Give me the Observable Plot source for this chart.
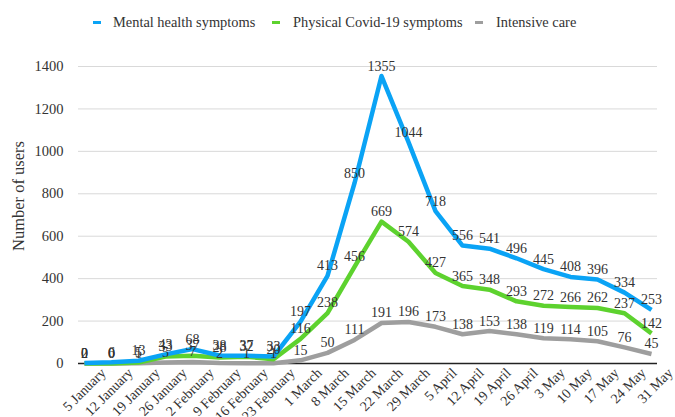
<!DOCTYPE html>
<html>
<head>
<meta charset="utf-8">
<script src="https://cdn.jsdelivr.net/npm/d3@7"></script>
<script src="https://cdn.jsdelivr.net/npm/@observablehq/plot@0.6"></script>
<style>
  html, body { margin: 0; padding: 0; background: #fff; }
  #wrap { width: 675px; height: 417px; position: relative; font-family: "Liberation Serif", "DejaVu Serif", serif; color: #333; }
  #legend { position: relative; height: 40px; width: 675px; }
  .sw { position: absolute; top: 21px; width: 8px; height: 3px; }
  .lt { position: absolute; top: 12px; font-family: "Liberation Serif", "DejaVu Serif", serif; font-size: 14.4px; line-height: 20px; white-space: nowrap; color: #333; }
  #chart svg text { font-family: "Liberation Serif", "DejaVu Serif", serif; }
</style>
</head>
<body>
<div id="wrap">
  <div id="legend"></div>
  <div id="chart"></div>
</div>
<script>
const dates = ["5 January","12 January","19 January","26 January","2 February","9 February","16 February","23 February","1 March","8 March","15 March","22 March","29 March","5 April","12 April","19 April","26 April","3 May","10 May","17 May","24 May","31 May"];
const mental = [2, 6, 13, 43, 68, 38, 37, 33, 197, 413, 850, 1355, 1044, 718, 556, 541, 496, 445, 408, 396, 334, 253];
const physical = [0, 0, 5, 33, 37, 28, 32, 20, 116, 238, 456, 669, 574, 427, 365, 348, 293, 272, 266, 262, 237, 142];
const intensive = [0, 0, 1, 5, 7, 2, 1, 1, 15, 50, 111, 191, 196, 173, 138, 153, 138, 119, 114, 105, 76, 45];
const seriesNames = ["Mental health symptoms", "Physical Covid-19 symptoms", "Intensive care"];
const seriesColors = ["#0aa3f5", "#5dd22e", "#9e9e9e"];
const yTicks = [0, 200, 400, 600, 800, 1000, 1200, 1400];

const seriesValues = [mental, physical, intensive];
const data = [];
seriesNames.forEach((name, s) => {
  dates.forEach((d, i) => data.push({series: name, date: d, value: seriesValues[s][i]}));
});

// legend
const legend = document.getElementById("legend");
const legendX = [[93, 113], [272, 293], [475, 496]];
seriesNames.forEach((name, i) => {
  const sw = document.createElement("div");
  sw.className = "sw"; sw.style.left = legendX[i][0] + "px"; sw.style.background = seriesColors[i];
  const t = document.createElement("div");
  t.className = "lt"; t.style.left = legendX[i][1] + "px"; t.textContent = name;
  legend.appendChild(sw); legend.appendChild(t);
});

const drawOrder = [seriesNames[2], seriesNames[1], seriesNames[0]];
const FF = "'Liberation Serif', 'DejaVu Serif', serif";

const chart = Plot.plot({
  width: 675,
  height: 377,
  marginLeft: 78,
  marginRight: 18,
  marginTop: 26,
  marginBottom: 54,
  style: {fontFamily: FF, fontSize: "14px", color: "#333", background: "#fff"},
  x: {type: "point", domain: dates, padding: 0},
  y: {domain: [0, 1400]},
  color: {domain: seriesNames, range: seriesColors},
  marks: [
    Plot.gridY(yTicks.filter(t => t > 0), {stroke: "#d9d9d9", strokeOpacity: 1, strokeWidth: 1}),
    Plot.ruleY([0], {stroke: "#222", strokeWidth: 1.5}),
    Plot.axisY(yTicks, {tickSize: 0, tickPadding: 15, label: null, fontSize: 14.5, tickFormat: d => String(d), fontFamily: FF}),
    Plot.axisX({tickSize: 0, tickPadding: 0, tickRotate: -45, textAnchor: "end", lineAnchor: "middle", dx: 19, dy: 7, label: null, fontSize: 14, fontFamily: FF}),
    Plot.text(["Number of users"], {frameAnchor: "left", dx: -60, dy: 36, rotate: -90, fontSize: 16.5, fontFamily: FF}),
    ...drawOrder.map(name => Plot.line(data.filter(d => d.series === name), {x: "date", y: "value", stroke: "series", strokeWidth: 4.5, strokeLinejoin: "round", strokeLinecap: "butt"})),
    Plot.text(data, {x: "date", y: "value", text: d => String(d.value), dy: -10, fill: "#333", fontSize: 14, fontFamily: FF})
  ]
});
document.getElementById("chart").appendChild(chart);
</script>
</body>
</html>
